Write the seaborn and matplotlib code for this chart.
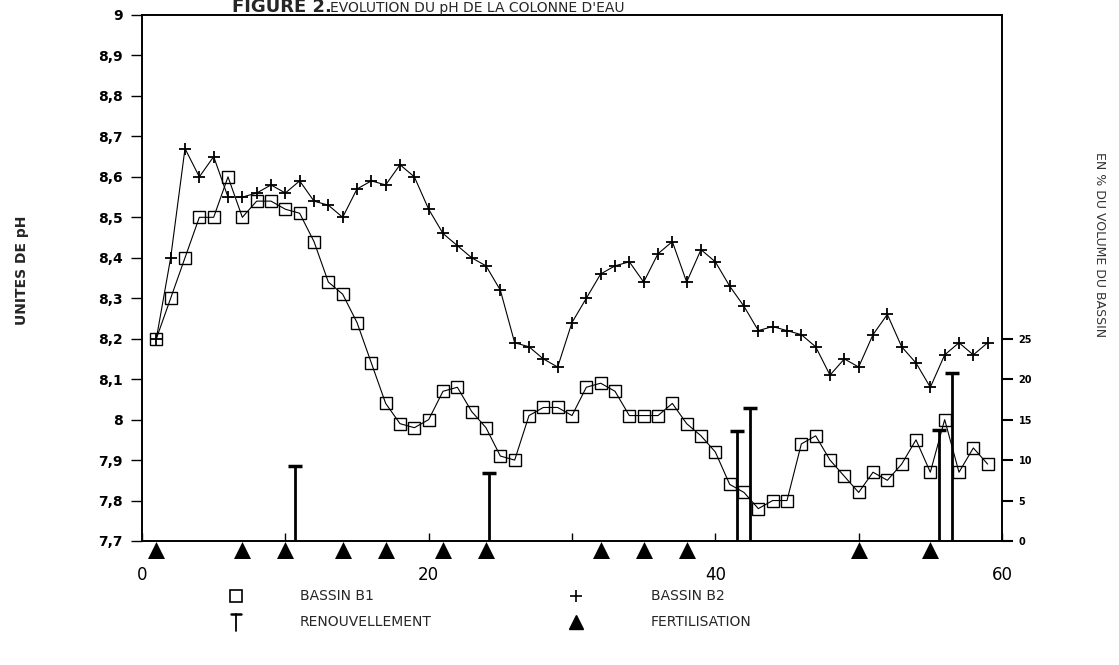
import matplotlib
matplotlib.use('Agg')
import matplotlib.pyplot as plt
import seaborn as sns
import pandas as pd
import numpy as np
from matplotlib.lines import Line2D

# ---------------- data ----------------
jours = list(range(1, 60))
bassin_b1 = [8.20, 8.30, 8.40, 8.50, 8.50, 8.60, 8.50, 8.54, 8.54, 8.52,
             8.51, 8.44, 8.34, 8.31, 8.24, 8.14, 8.04, 7.99, 7.98, 8.00,
             8.07, 8.08, 8.02, 7.98, 7.91, 7.90, 8.01, 8.03, 8.03, 8.01,
             8.08, 8.09, 8.07, 8.01, 8.01, 8.01, 8.04, 7.99, 7.96, 7.92,
             7.84, 7.82, 7.78, 7.80, 7.80, 7.94, 7.96, 7.90, 7.86, 7.82,
             7.87, 7.85, 7.89, 7.95, 7.87, 8.00, 7.87, 7.93, 7.89]
bassin_b2 = [8.20, 8.40, 8.67, 8.60, 8.65, 8.55, 8.55, 8.56, 8.58, 8.56,
             8.59, 8.54, 8.53, 8.50, 8.57, 8.59, 8.58, 8.63, 8.60, 8.52,
             8.46, 8.43, 8.40, 8.38, 8.32, 8.19, 8.18, 8.15, 8.13, 8.24,
             8.30, 8.36, 8.38, 8.39, 8.34, 8.41, 8.44, 8.34, 8.42, 8.39,
             8.33, 8.28, 8.22, 8.23, 8.22, 8.21, 8.18, 8.11, 8.15, 8.13,
             8.21, 8.26, 8.18, 8.14, 8.08, 8.16, 8.19, 8.16, 8.19]
renouv_jours = [10.7, 24.2, 41.5, 42.4, 55.6, 56.5]
renouv_pct = [9.3, 8.4, 13.6, 16.4, 13.7, 20.8]
fert_jours = [1, 7, 10, 14, 17, 21, 24, 32, 35, 38, 50, 55]

ph_ticks = [7.7, 7.8, 7.9, 8.0, 8.1, 8.2, 8.3, 8.4, 8.5, 8.6, 8.7, 8.8, 8.9, 9.0]
ph_labels = ['7,7', '7,8', '7,9', '8', '8,1', '8,2', '8,3', '8,4', '8,5',
             '8,6', '8,7', '8,8', '8,9', '9']
x_ticks = [0, 20, 40, 60]
x_minor = [10, 30, 50]
pct_ticks = [0, 5, 10, 15, 20, 25]

df = pd.DataFrame({'jour': jours, 'B1': bassin_b1, 'B2': bassin_b2})
df_r = pd.DataFrame({'jour': renouv_jours, 'pct': renouv_pct})
df_f = pd.DataFrame({'jour': fert_jours, 'y': [7.678] * len(fert_jours)})

# ---------------- figure ----------------
sns.set_theme(style='white')
plt.rcParams['font.family'] = ['DejaVu Sans']

W, H = 1119, 665
fig = plt.figure(figsize=(W / 100, H / 100), dpi=100)
fig.patch.set_facecolor('white')
ax = fig.add_axes([142 / W, 1 - 541 / H, 860 / W, 526 / H])
ax.set_facecolor('white')

sns.lineplot(data=df, x='jour', y='B1', ax=ax, color='black', linewidth=0.8,
             marker='s', markersize=8, markerfacecolor='none',
             markeredgecolor='black', markeredgewidth=1.0)
sns.lineplot(data=df, x='jour', y='B2', ax=ax, color='black', linewidth=0.8,
             marker='+', markersize=9, markeredgecolor='black',
             markeredgewidth=1.3)
sns.scatterplot(data=df_f, x='jour', y='y', ax=ax, marker='^', s=150,
                color='black', edgecolor='black', linewidth=0, clip_on=False,
                zorder=5)

ax.set_xlim(0, 60)
ax.set_ylim(7.7, 9.0)
ax.set_yticks(ph_ticks)
ax.set_yticklabels(ph_labels, fontweight='bold', fontsize=10)
ax.set_xticks(x_ticks)
ax.set_xticklabels([str(v) for v in x_ticks], fontsize=12)
ax.set_xticks(x_minor, minor=True)
ax.tick_params(axis='y', direction='out', length=8, width=1, pad=6,
               left=True, colors='black')
ax.tick_params(axis='x', which='both', direction='in', length=6, width=1,
               pad=18, bottom=True, colors='black')
ax.set_xlabel('')
ax.set_ylabel('')
for s in ax.spines.values():
    s.set_color('black')
    s.set_linewidth(1.2)

ax2 = ax.twinx()
ax2.set_ylim(0, 65)
ax2.vlines(df_r['jour'], 0, df_r['pct'], color='black', linewidth=2)
sns.scatterplot(data=df_r, x='jour', y='pct', ax=ax2, marker='_', s=110,
                color='black', linewidth=2.5)
ax2.set_yticks(pct_ticks)
ax2.set_yticklabels([str(v) for v in pct_ticks], fontweight='bold', fontsize=7)
ax2.tick_params(axis='y', direction='out', length=8, width=1.5, pad=4,
                right=True, colors='black')
ax2.set_ylabel('')
ax2.set_xlabel('')
for s in ax2.spines.values():
    s.set_color('black')
    s.set_linewidth(1.2)

# ---------------- texts ----------------
fig.text(232 / W, 1 - 12 / H, 'FIGURE 2.', fontsize=13, fontweight='bold',
         va='baseline', ha='left')
fig.text(330 / W, 1 - 12 / H, "EVOLUTION DU pH DE LA COLONNE D'EAU",
         fontsize=10, va='baseline', ha='left')
fig.text(22 / W, 1 - 270 / H, 'UNITES DE pH', rotation=90, fontsize=10,
         fontweight='bold', va='center', ha='center')
fig.text(1100 / W, 1 - 245 / H, 'EN % DU VOLUME DU BASSIN', rotation=270,
         fontsize=9, color='#333333', va='center', ha='center')

# ---------------- legend ----------------
def fx(p):
    return p / W

def fy(p):
    return 1 - p / H

fig.add_artist(Line2D([fx(236)], [fy(596)], marker='s', ms=8, mfc='none',
                      mec='black', mew=1.2, ls=''))
fig.text(fx(300), fy(596), 'BASSIN B1', fontsize=10, va='center', ha='left')
fig.add_artist(Line2D([fx(576)], [fy(596)], marker='+', ms=9, mec='black',
                      mew=1.2, ls=''))
fig.text(fx(651), fy(596), 'BASSIN B2', fontsize=10, va='center', ha='left')
fig.add_artist(Line2D([fx(236), fx(236)], [fy(614), fy(631)], color='black',
                      lw=1.3))
fig.add_artist(Line2D([fx(231), fx(241)], [fy(614), fy(614)], color='black',
                      lw=1.8))
fig.text(fx(300), fy(622), 'RENOUVELLEMENT', fontsize=10, va='center',
         ha='left')
fig.add_artist(Line2D([fx(576)], [fy(622)], marker='^', ms=10, color='black',
                      ls=''))
fig.text(fx(651), fy(622), 'FERTILISATION', fontsize=10, va='center',
         ha='left')

fig.savefig('out.png', dpi=100, facecolor='white')
